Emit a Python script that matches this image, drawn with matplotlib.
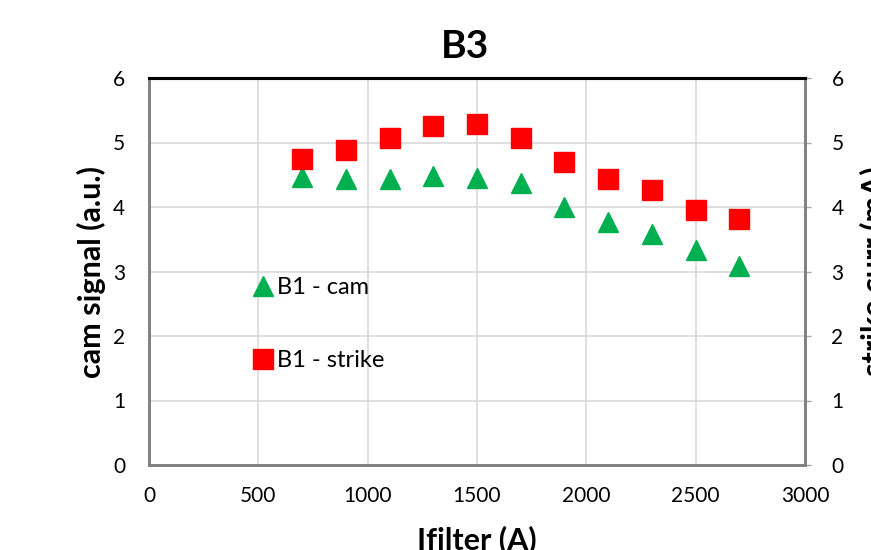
import matplotlib.pyplot as plt
from matplotlib.lines import Line2D

plt.rcParams["font.family"] = ["Lato", "DejaVu Sans"]

# Filter current scan, camera signal and strike current
ifilter = [700, 900, 1100, 1300, 1500, 1700, 1900, 2100, 2300, 2500, 2700]
cam_signal = [4.47, 4.43, 4.44, 4.48, 4.45, 4.37, 4.00, 3.76, 3.58, 3.34, 3.09]
strike_curr = [4.75, 4.89, 5.07, 5.26, 5.29, 5.07, 4.69, 4.44, 4.27, 3.95, 3.82]

x_ticks = [0, 500, 1000, 1500, 2000, 2500, 3000]
y_ticks = [0, 1, 2, 3, 4, 5, 6]

green = "#00B050"
red = "#FF0000"

fig = plt.figure(figsize=(8.71, 5.5), dpi=100)
ax = fig.add_axes([149 / 871, 1 - 465 / 550, 656 / 871, 387 / 550])
ax2 = ax.twinx()

ax.plot(ifilter, cam_signal, linestyle="none", marker="^", markersize=14,
        color=green, label="B1 - cam", zorder=3)
ax2.plot(ifilter, strike_curr, linestyle="none", marker="s", markersize=14,
         color=red, label="B1 - strike", zorder=3)

ax.set_xlim(0, 3000)
ax.set_ylim(0, 6)
ax2.set_ylim(0, 6)
ax.set_xticks(x_ticks)
ax.set_yticks(y_ticks)
ax2.set_yticks(y_ticks)

ax.grid(True, color="#d9d9d9", linewidth=1.2)
ax.set_axisbelow(True)

ax.tick_params(axis="x", length=0, pad=15, labelsize=15)
ax.tick_params(axis="y", length=0, pad=17, labelsize=15)
ax2.tick_params(axis="y", length=4, width=1, color="#a6a6a6", pad=15, labelsize=15)

for a in (ax, ax2):
    for side in ("left", "right", "bottom"):
        a.spines[side].set_color("#7f7f7f")
        a.spines[side].set_linewidth(1.8)
    a.spines["top"].set_color("black")
    a.spines["top"].set_linewidth(2.2)

ax.set_xlabel("Ifilter (A)", fontsize=22, fontweight="bold")
ax.xaxis.set_label_coords(0.5, -0.155)
ax.xaxis.label.set_va("top")
ax.set_ylabel("cam signal (a.u.)", fontsize=22, fontweight="bold")
ax.yaxis.set_label_coords(-0.066, 0.5)
ax2.set_ylabel("strike curr (mA)", fontsize=22, fontweight="bold")
ax2.yaxis.set_label_coords(1.083, 0.5)

fig.text(465 / 871, 1 - 58 / 550, "B3", fontsize=28, fontweight="bold",
         ha="center", va="baseline")

handles = [
    Line2D([], [], linestyle="none", marker="^", markersize=14, color=green),
    Line2D([], [], linestyle="none", marker="s", markersize=14, color=red),
]
ax2.legend(handles, ["B1 - cam", "B1 - strike"], loc="upper left",
           bbox_to_anchor=(95 / 656, 1 - 190 / 387), frameon=False,
           fontsize=17, handlelength=0.8, handletextpad=0.2,
           labelspacing=2.2, borderaxespad=0)

fig.savefig("out.png", dpi=100)
